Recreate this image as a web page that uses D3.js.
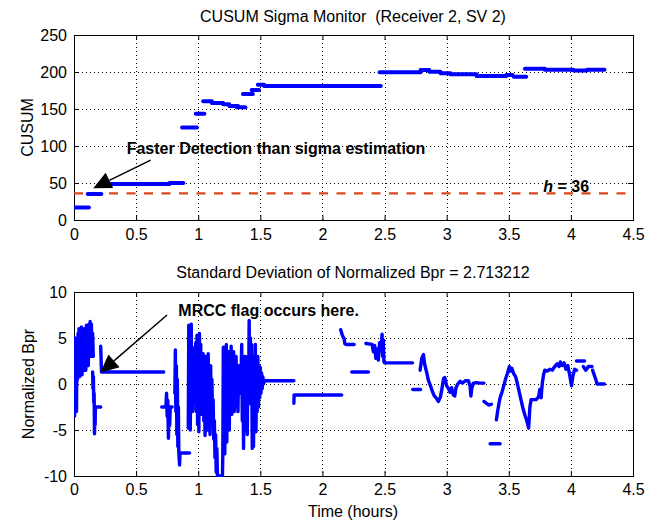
<!DOCTYPE html>
<html>
<head>
<meta charset="utf-8">
<script src="https://cdn.jsdelivr.net/npm/d3@7"></script>
<style>
  body { margin: 0; background: #fff; }
  svg text { font-family: "Liberation Sans", Arial, Helvetica, sans-serif; }
</style>
</head>
<body>
<svg id="chart" width="655" height="525"></svg>
<script>
// ---- data -------------------------------------------------------------
const timeTicks  = [0, 0.5, 1, 1.5, 2, 2.5, 3, 3.5, 4, 4.5];
const cusumTicks = [0, 50, 100, 150, 200, 250];
const bprTicks   = [-10, -5, 0, 5, 10];

const topTitle = "CUSUM Sigma Monitor  (Receiver 2, SV 2)";
const bprStd = 2.713212;
const hThreshold = 36;

// CUSUM statistic: flat pieces (start hour, end hour, level)
const segStart = [0.00, 0.11, 0.29, 0.77, 0.87, 0.98, 1.04, 1.11, 1.20, 1.25, 1.31, 1.36, 1.43, 1.48, 1.53,
                  2.46, 2.79, 2.86, 2.95, 3.03, 3.24, 3.48, 3.54, 3.63, 3.79, 4.02, 4.13];
const segEnd   = [0.12, 0.22, 0.77, 0.88, 0.99, 1.05, 1.11, 1.20, 1.25, 1.32, 1.38, 1.44, 1.49, 1.53, 2.47,
                  2.79, 2.86, 2.95, 3.03, 3.24, 3.48, 3.53, 3.64, 3.79, 4.02, 4.13, 4.27];
const segValue = [17, 35, 48.6, 50, 125, 143.7, 160.4, 158, 156.3, 154, 152.3, 170.3, 175.7, 182.9, 181,
                  199.8, 202.7, 200.5, 198.2, 196.8, 194.6, 195.9, 193.7, 204.5, 203.2, 202, 203];

// Normalized Bpr samples, grouped in continuous runs of [hour, value]
const bprRuns = [
  [[0.000,4.5],[0.004,-3.5],[0.008,5.0],[0.012,-1.0],[0.016,2.5],[0.020,-3.0],[0.024,4.5],[0.028,0.5],
   [0.032,5.5],[0.036,1.0],[0.040,6.0],[0.045,0.8],[0.050,4.5],[0.055,2.0],[0.060,6.2],[0.065,1.0],
   [0.070,5.0],[0.075,1.5],[0.080,6.0],[0.085,2.0],[0.090,5.5],[0.095,1.5],[0.100,6.4],[0.105,2.5],
   [0.110,5.0],[0.115,2.0],[0.120,6.5],[0.125,3.0],[0.130,6.8],[0.135,3.5],[0.140,6.5],[0.145,3.0],
   [0.150,5.5],[0.155,3.0]],
  [[0.150,1.3],[0.153,-0.5],[0.156,0.8],[0.159,-2.0],[0.162,-1.0],[0.165,-5.4],[0.168,-3.0],[0.170,-4.5],
   [0.172,-2.5],[0.215,-2.5]],
  [[0.215,4.1],[0.217,3.2],[0.219,2.2],[0.221,1.3],[0.722,1.3]],
  [[0.706,-2.5],[0.740,-2.5],[0.745,-1.0],[0.750,-3.5],[0.755,-1.8],[0.760,-5.9],[0.765,-3.0],[0.770,-4.5],
   [0.775,-2.5],[0.790,-2.5]],
  [[0.812,-1.0],[0.816,3.7],[0.820,-3.0],[0.824,2.0],[0.828,-5.5],[0.832,0.5],[0.836,-6.8],[0.840,-2.5],
   [0.844,-7.5],[0.850,-8.8],[0.853,-7.5],[0.930,-7.5]],
  [[0.920,-4.8],[0.924,6.4],[0.928,-2.0],[0.932,5.5],[0.936,-5.0],[0.940,3.0],[0.944,6.5],[0.948,-1.0],
   [0.952,4.0],[0.956,-3.0],[0.960,2.0],[0.968,-1.5],[0.972,1.0],[0.976,-2.0],[0.980,4.5],[0.985,-3.0],
   [0.990,5.3],[0.995,-4.4],[1.000,3.0],[1.005,-5.2],[1.010,5.5],[1.015,-1.5],[1.020,4.3],[1.025,-3.3],
   [1.030,2.5],[1.035,-2.0],[1.040,3.3],[1.045,-4.0],[1.050,1.5],[1.055,-5.6],[1.060,3.0],[1.065,-3.5],
   [1.070,2.0],[1.075,-5.0],[1.080,3.3],[1.085,-2.0],[1.090,1.0],[1.095,-5.5],[1.100,2.0],[1.105,-4.0],
   [1.110,0.5],[1.115,-3.3],[1.120,-1.7],[1.125,-6.0],[1.130,-4.0],[1.135,-8.0],[1.140,-5.5],[1.145,-9.6],
   [1.150,-7.0],[1.155,-10.0],[1.195,-10.0],[1.198,-7.6],[1.202,4.0],[1.206,-6.0],[1.210,2.0],[1.214,-7.6],
   [1.218,3.5],[1.222,-3.0],[1.226,4.3],[1.230,-6.3],[1.235,1.0],[1.240,-4.0],[1.245,3.5],[1.250,-5.0],
   [1.255,2.0],[1.260,-2.0],[1.265,4.1],[1.270,-3.3],[1.275,2.5],[1.280,-1.0],[1.285,3.5],[1.290,-3.0],
   [1.295,1.5],[1.300,-2.5],[1.305,3.0],[1.310,-2.0],[1.315,1.0],[1.320,-3.0],[1.325,2.0],[1.335,-1.0],
   [1.345,1.0],[1.350,4.3],[1.355,-4.0],[1.360,2.0],[1.365,-7.0],[1.370,3.0],[1.375,-5.0],[1.380,3.0],
   [1.385,-3.0],[1.390,1.0],[1.395,-5.5],[1.400,3.0],[1.405,-2.0],[1.410,6.9],[1.415,-1.0],[1.420,5.0],
   [1.425,-2.2],[1.430,4.3],[1.435,-7.0],[1.440,2.0],[1.445,-6.8],[1.450,3.0],[1.455,-4.0],[1.460,4.3],
   [1.465,-5.2],[1.470,2.5],[1.475,-3.0],[1.480,3.0],[1.485,-2.5],[1.490,2.0],[1.495,-1.5],[1.500,1.8],
   [1.505,-1.0],[1.510,1.2],[1.515,-0.5],[1.520,0.8],[1.525,0.0],[1.535,0.4],[1.545,0.35],[1.770,0.35]],
  [[1.770,-2.1],[1.772,-1.2],[2.155,-1.2]],
  [[2.147,5.9],[2.160,5.3],[2.175,4.9],[2.180,4.4],[2.190,4.3],[2.255,4.3]],
  [[2.236,1.3],[2.370,1.3]],
  [[2.350,4.4],[2.400,4.3],[2.410,3.5],[2.420,4.2],[2.430,2.8],[2.440,3.8],[2.450,2.6],[2.460,4.5],
   [2.470,3.6],[2.480,5.4],[2.485,3.0],[2.490,4.8],[2.495,2.4],[2.500,2.3],[2.725,2.3]],
  [[2.727,-0.6],[2.790,-0.6]],
  [[2.786,1.5],[2.800,2.8],[2.813,3.2],[2.822,2.2],[2.840,1.2],[2.853,0.4],[2.870,-0.2],[2.885,-0.8],
   [2.900,-1.3],[2.920,-1.6],[2.933,-1.9],[2.950,-1.4],[2.962,-0.5],[2.975,0.6],[2.985,0.7],[3.000,-0.2],
   [3.015,-0.5],[3.027,-0.9],[3.040,-0.4],[3.054,-1.2],[3.065,-1.3],[3.075,-0.4],[3.090,0.0],[3.108,0.3],
   [3.125,0.1],[3.150,0.35],[3.175,0.35],[3.188,-0.2],[3.195,-1.3],[3.202,-0.5],[3.215,0.1],[3.240,0.15],
   [3.270,0.1],[3.300,0.1]],
  [[3.300,-1.9],[3.320,-2.1],[3.340,-2.3],[3.360,-2.2]],
  [[3.350,-6.5],[3.430,-6.5]],
  [[3.400,-3.9],[3.410,-3.0],[3.420,-2.2],[3.430,-1.5],[3.445,-0.9],[3.460,-0.2],[3.475,0.6],[3.490,1.2],
   [3.505,1.9],[3.515,1.4],[3.525,1.7],[3.540,1.1],[3.555,0.8],[3.570,0.0],[3.585,-0.9],[3.600,-1.8],
   [3.615,-2.7],[3.630,-3.4],[3.645,-4.0],[3.660,-4.8],[3.670,-2.5],[3.680,-1.7],[3.700,-1.7],[3.720,-1.7],
   [3.740,-1.4],[3.750,-0.6],[3.760,-1.5],[3.770,0.1],[3.780,1.0],[3.790,1.5],[3.810,1.4],[3.830,1.6],
   [3.850,1.5],[3.870,1.9],[3.890,2.2],[3.905,1.9],[3.915,2.4],[3.930,2.0],[3.945,2.3],[3.960,1.6],
   [3.975,2.0],[3.990,1.0],[4.005,-0.2],[4.015,0.8],[4.030,1.6],[4.045,1.5]],
  [[4.045,2.5],[4.110,2.5]],
  [[4.100,1.9],[4.120,1.5],[4.140,1.9],[4.170,1.9]],
  [[4.175,1.5],[4.190,0.9],[4.205,0.3],[4.210,0.0],[4.270,0.0]]
];

// ---- layout -----------------------------------------------------------
const svg = d3.select("#chart");
svg.append("rect").attr("width", 655).attr("height", 525).attr("fill", "#fff");

const plotLeft = 74, plotRight = 633;
const x = d3.scaleLinear().domain([0, 4.5]).range([plotLeft, plotRight]);
const yTop = d3.scaleLinear().domain([0, 250]).range([220, 35]);
const yBot = d3.scaleLinear().domain([-10, 10]).range([476, 292]);

const FONT = 16;
const fmt = d => String(d);

function drawFrame(y, yTicks, xPad) {
  const [yB, yT] = y.range();
  const g = svg.append("g");

  // dotted grid
  const grid = g.append("g").attr("stroke", "#000").attr("stroke-width", 1)
    .attr("stroke-dasharray", "1,3");
  grid.selectAll(".gx").data(timeTicks.slice(1, -1)).join("line")
    .attr("x1", d => Math.round(x(d)) + 0.5).attr("x2", d => Math.round(x(d)) + 0.5)
    .attr("y1", yT).attr("y2", yB);
  grid.selectAll(".gy").data(yTicks.slice(1, -1)).join("line")
    .attr("x1", plotLeft).attr("x2", plotRight)
    .attr("y1", d => Math.round(y(d)) + 0.5).attr("y2", d => Math.round(y(d)) + 0.5);

  const style = sel => {
    sel.select(".domain").remove();
    sel.selectAll(".tick line").attr("stroke", "#000");
    sel.selectAll(".tick text").attr("fill", "#000").attr("font-size", FONT)
      .attr("font-family", '"Liberation Sans", Arial, sans-serif');
  };

  g.append("g").attr("transform", `translate(0,${yB})`)
    .call(d3.axisBottom(x).tickValues(timeTicks).tickFormat(fmt)
      .tickSizeInner(-5).tickSizeOuter(0).tickPadding(xPad)).call(style);
  g.append("g").attr("transform", `translate(0,${yT})`)
    .call(d3.axisTop(x).tickValues(timeTicks).tickFormat("")
      .tickSizeInner(-5).tickSizeOuter(0)).call(style);
  g.append("g").attr("transform", `translate(${plotLeft},0)`)
    .call(d3.axisLeft(y).tickValues(yTicks).tickFormat(fmt)
      .tickSizeInner(-5).tickSizeOuter(0).tickPadding(7)).call(style);
  g.append("g").attr("transform", `translate(${plotRight},0)`)
    .call(d3.axisRight(y).tickValues(yTicks).tickFormat("")
      .tickSizeInner(-5).tickSizeOuter(0)).call(style);

  g.append("rect").attr("x", plotLeft + 0.5).attr("y", yT + 0.5)
    .attr("width", plotRight - plotLeft).attr("height", yB - yT)
    .attr("fill", "none").attr("stroke", "#000").attr("stroke-width", 1);
  return g;
}

function arrow(g, x1, y1, x2, y2) {
  const dx = x2 - x1, dy = y2 - y1, len = Math.hypot(dx, dy);
  const ux = dx / len, uy = dy / len;
  const headL = 18, headW = 8.5;
  const bx = x2 - ux * headL, by = y2 - uy * headL;
  g.append("line").attr("x1", x1).attr("y1", y1).attr("x2", bx).attr("y2", by)
    .attr("stroke", "#000").attr("stroke-width", 1.5);
  g.append("path")
    .attr("d", `M${x2},${y2}L${bx - uy * headW},${by + ux * headW}L${bx + uy * headW},${by - ux * headW}Z`)
    .attr("fill", "#000");
}

// ---- top panel: CUSUM ---------------------------------------------------
const gTop = drawFrame(yTop, cusumTicks, 9);
const clipTop = svg.append("defs").append("clipPath").attr("id", "clipTop");
clipTop.append("rect").attr("x", plotLeft).attr("y", 35).attr("width", plotRight - plotLeft).attr("height", 185);

svg.append("line")
  .attr("x1", x(0)).attr("x2", x(4.45))
  .attr("y1", yTop(hThreshold)).attr("y2", yTop(hThreshold))
  .attr("stroke", "#d9471b").attr("stroke-width", 2.2).attr("stroke-dasharray", "9,8.5");

svg.append("g").attr("clip-path", "url(#clipTop)")
  .selectAll("line").data(d3.range(segStart.length)).join("line")
  .attr("x1", i => x(segStart[i])).attr("x2", i => x(segEnd[i]))
  .attr("y1", i => yTop(segValue[i])).attr("y2", i => yTop(segValue[i]))
  .attr("stroke", "#0000ff").attr("stroke-width", 4).attr("stroke-linecap", "round");

svg.append("text").attr("x", 353).attr("y", 22).attr("text-anchor", "middle")
  .attr("font-size", FONT).style("white-space", "pre").text(topTitle);
svg.append("text").attr("transform", `translate(33,${(35 + 220) / 2}) rotate(-90)`)
  .attr("text-anchor", "middle").attr("font-size", FONT).text("CUSUM");

const annTop = svg.append("g");
arrow(annTop, x(0.617), yTop(81), x(0.155), yTop(42.8));
annTop.append("text").attr("x", x(0.424)).attr("y", yTop(89))
  .attr("font-size", FONT).attr("font-weight", "bold")
  .text("Faster Detection than sigma estimation");
const hLabel = annTop.append("text").attr("x", x(3.778)).attr("y", yTop(38.5))
  .attr("font-size", FONT).attr("font-weight", "bold").style("white-space", "pre");
hLabel.append("tspan").attr("font-style", "italic").text("h");
hLabel.append("tspan").text(" = " + hThreshold);

// ---- bottom panel: normalized Bpr -------------------------------------
const gBot = drawFrame(yBot, bprTicks, 8);
const clipBot = svg.select("defs").append("clipPath").attr("id", "clipBot");
clipBot.append("rect").attr("x", plotLeft).attr("y", 290).attr("width", plotRight - plotLeft).attr("height", 187);

const bprLine = d3.line().x(d => x(d[0])).y(d => yBot(d[1]));
svg.append("g").attr("clip-path", "url(#clipBot)")
  .selectAll("path").data(bprRuns).join("path")
  .attr("d", bprLine)
  .attr("fill", "none").attr("stroke", "#0000ff").attr("stroke-width", 3.4)
  .attr("stroke-linejoin", "round").attr("stroke-linecap", "round");

svg.append("text").attr("x", 353).attr("y", 278).attr("text-anchor", "middle")
  .attr("font-size", FONT).text("Standard Deviation of Normalized Bpr = " + bprStd.toFixed(6));
svg.append("text").attr("transform", `translate(34,${(292 + 476) / 2}) rotate(-90)`)
  .attr("text-anchor", "middle").attr("font-size", FONT).text("Normalized Bpr");
svg.append("text").attr("x", 353).attr("y", 517).attr("text-anchor", "middle")
  .attr("font-size", FONT).text("Time (hours)");

const annBot = svg.append("g");
arrow(annBot, x(0.749), yBot(7.5), x(0.212), yBot(1.23));
annBot.append("text").attr("x", x(0.84)).attr("y", yBot(7.34))
  .attr("font-size", FONT).attr("font-weight", "bold")
  .text("MRCC flag occurs here.");
</script>
</body>
</html>
